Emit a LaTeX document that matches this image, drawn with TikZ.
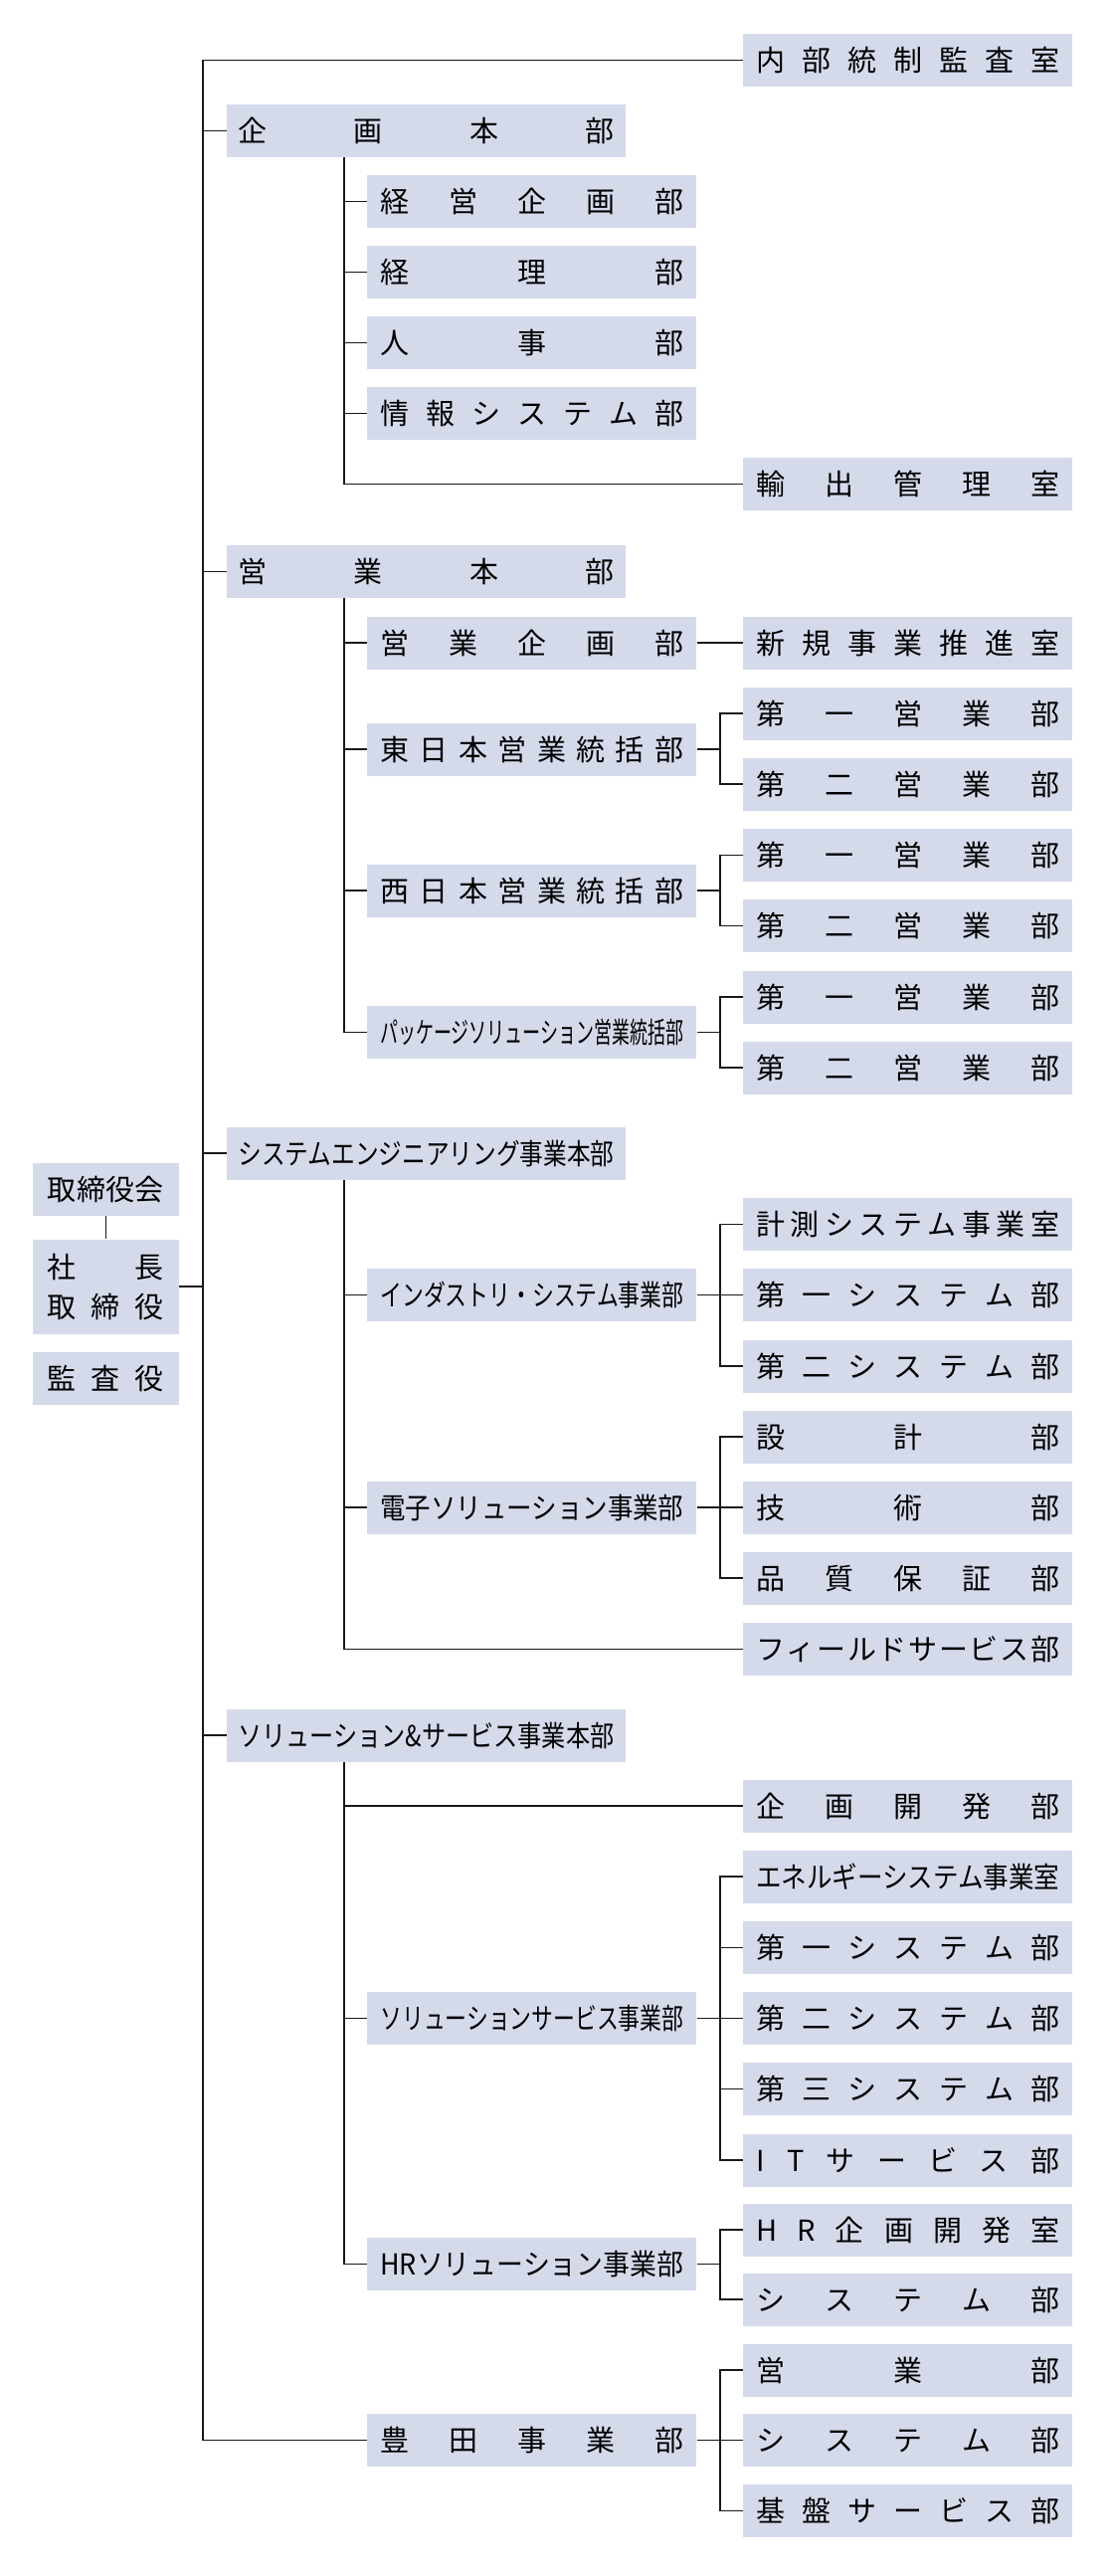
\documentclass[tikz,border=0pt]{standalone}
\usepackage{fontspec}
\setmainfont{Noto Sans CJK JP}
\usepackage{graphicx}
\definecolor{boxfill}{RGB}{213,218,235}
\def\distloop#1{\ifx#1\relax\else\hfill#1\expandafter\distloop\fi}
\def\distfirst#1{#1\distloop}
\newcommand\dist[2]{\makebox[#1][s]{\distfirst#2\relax}}
\newcommand\fitw[2]{\resizebox{#1}{\height}{#2}}
\tikzset{
  lbl/.style={inner sep=0pt, text height=25.5pt, text depth=3.5pt, font=\fontsize{29pt}{35pt}\selectfont},
  org/.style={lbl, fill=boxfill, draw=none, minimum height=53pt},
  c3/.style={org, minimum width=331pt},
  c2/.style={org, minimum width=331pt},
  c1/.style={org, minimum width=401pt},
  c0/.style={org, minimum width=147pt},
  link/.style={line width=1.8pt, draw=black!90},
}
\begin{document}
\begin{tikzpicture}[x=1pt,y=-1pt]
\useasboundingbox (0,0) rectangle (1117,2589);
\node[c3] (naibu) at (912.8,60.5) {\dist{305pt}{内部統制監査室}};
\node[c1] (kikaku) at (428.4,131.5) {\dist{378pt}{企画本部}};
\node[c2] (keiei) at (534.9,202.5) {\dist{305pt}{経営企画部}};
\node[c2] (keiri) at (534.9,273.5) {\dist{305pt}{経理部}};
\node[c2] (jinji) at (534.9,344.5) {\dist{305pt}{人事部}};
\node[c2] (joho) at (534.9,415.5) {\dist{305pt}{情報システム部}};
\node[c3] (yushutsu) at (912.8,486.5) {\dist{305pt}{輸出管理室}};
\node[c1] (eigyo) at (428.4,574.5) {\dist{378pt}{営業本部}};
\node[c2] (eikika) at (534.9,646) {\dist{305pt}{営業企画部}};
\node[c3] (shinki) at (912.8,646) {\dist{305pt}{新規事業推進室}};
\node[c3] (e1) at (912.8,717) {\dist{305pt}{第一営業部}};
\node[c2] (higashi) at (534.9,753) {\dist{305pt}{東日本営業統括部}};
\node[c3] (e2) at (912.8,788) {\dist{305pt}{第二営業部}};
\node[c3] (w1) at (912.8,859.5) {\dist{305pt}{第一営業部}};
\node[c2] (nishi) at (534.9,895) {\dist{305pt}{西日本営業統括部}};
\node[c3] (w2) at (912.8,930.5) {\dist{305pt}{第二営業部}};
\node[c3] (p1) at (912.8,1002) {\dist{305pt}{第一営業部}};
\node[c2] (pkg) at (534.9,1037.5) {\fitw{305pt}{パッケージソリューション営業統括部}};
\node[c3] (p2) at (912.8,1073) {\dist{305pt}{第二営業部}};
\node[c1] (se) at (428.4,1159) {\fitw{378pt}{システムエンジニアリング事業本部}};
\node[c3] (keisoku) at (912.8,1230.5) {\dist{305pt}{計測システム事業室}};
\node[c2] (industry) at (534.9,1301.5) {\fitw{305pt}{インダストリ・システム事業部}};
\node[c3] (is1) at (912.8,1301.5) {\dist{305pt}{第一システム部}};
\node[c3] (is2) at (912.8,1373) {\dist{305pt}{第二システム部}};
\node[c3] (sekkei) at (912.8,1444) {\dist{305pt}{設計部}};
\node[c2] (denshi) at (534.9,1515) {\fitw{305pt}{電子ソリューション事業部}};
\node[c3] (gijutsu) at (912.8,1515) {\dist{305pt}{技術部}};
\node[c3] (hinshitsu) at (912.8,1586) {\dist{305pt}{品質保証部}};
\node[c3] (field) at (912.8,1657.5) {\dist{305pt}{フィールドサービス部}};
\node[c1] (ss) at (428.4,1744) {\fitw{378pt}{ソリューション\&サービス事業本部}};
\node[c3] (kaihatsu) at (912.8,1815) {\dist{305pt}{企画開発部}};
\node[c3] (energy) at (912.8,1886) {\fitw{305pt}{エネルギーシステム事業室}};
\node[c3] (ss1) at (912.8,1957.5) {\dist{305pt}{第一システム部}};
\node[c2] (solserv) at (534.9,2028.5) {\fitw{305pt}{ソリューションサービス事業部}};
\node[c3] (ss2) at (912.8,2028.5) {\dist{305pt}{第二システム部}};
\node[c3] (ss3) at (912.8,2099.5) {\dist{305pt}{第三システム部}};
\node[c3] (it) at (912.8,2171) {\dist{305pt}{ITサービス部}};
\node[c3] (hrk) at (912.8,2241) {\dist{305pt}{HR企画開発室}};
\node[c2] (hrsol) at (534.9,2275.5) {\fitw{305pt}{HRソリューション事業部}};
\node[c3] (hrsys) at (912.8,2311) {\dist{305pt}{システム部}};
\node[c3] (t1) at (912.8,2382) {\dist{305pt}{営業部}};
\node[c2] (toyota) at (534.9,2452.5) {\dist{305pt}{豊田事業部}};
\node[c3] (t2) at (912.8,2452.5) {\dist{305pt}{システム部}};
\node[c3] (t3) at (912.8,2523.5) {\dist{305pt}{基盤サービス部}};
% left column
\node[c0] (board) at (106.4,1195) {\dist{117pt}{取締役会}};
\node[c0, minimum height=95pt] (pres) at (106.4,1293) {};
\node[lbl] (presA) at (106.4,1273) {\dist{117pt}{社長}};
\node[lbl] (presB) at (106.4,1313.5) {\dist{117pt}{取締役}};
\node[c0] (audit) at (106.4,1385) {\dist{117pt}{監査役}};
% guide coordinates
\coordinate (trunk) at (204.3,0);
\coordinate (sub) at (345.9,0);
\coordinate (br) at (723.8,0);
% trunk
\draw[link] (naibu.west) -| (trunk |- toyota.west) -- (toyota.west);
\foreach \n in {kikaku,eigyo,se,ss} \draw[link] (trunk |- \n.west) -- (\n.west);
\draw[link] (pres.east) -- (trunk |- pres.east);
\draw[link] (board.south) -- (pres.north);
% sub verticals
\draw[link] (sub |- kikaku.south) |- (yushutsu.west);
\foreach \n in {keiei,keiri,jinji,joho} \draw[link] (sub |- \n.west) -- (\n.west);
\draw[link] (sub |- eigyo.south) |- (pkg.west);
\foreach \n in {eikika,higashi,nishi} \draw[link] (sub |- \n.west) -- (\n.west);
\draw[link] (eikika.east) -- (shinki.west);
\draw[link] (sub |- se.south) |- (field.west);
\foreach \n in {industry,denshi} \draw[link] (sub |- \n.west) -- (\n.west);
\draw[link] (sub |- ss.south) |- (hrsol.west);
\foreach \n in {kaihatsu,solserv} \draw[link] (sub |- \n.west) -- (\n.west);
% brackets
\foreach \p/\a/\b in {higashi/e1/e2, nishi/w1/w2, pkg/p1/p2, industry/keisoku/is2, denshi/sekkei/hinshitsu, solserv/energy/it, hrsol/hrk/hrsys, toyota/t1/t3} {
  \draw[link] (\p.east) -- (br |- \p.east);
  \draw[link] (\a.west) -| (br |- \b.west) -- (\b.west);
}
\foreach \m in {is1,gijutsu,ss1,ss2,ss3,t2} \draw[link] (br |- \m.west) -- (\m.west);
\end{tikzpicture}
\end{document}
